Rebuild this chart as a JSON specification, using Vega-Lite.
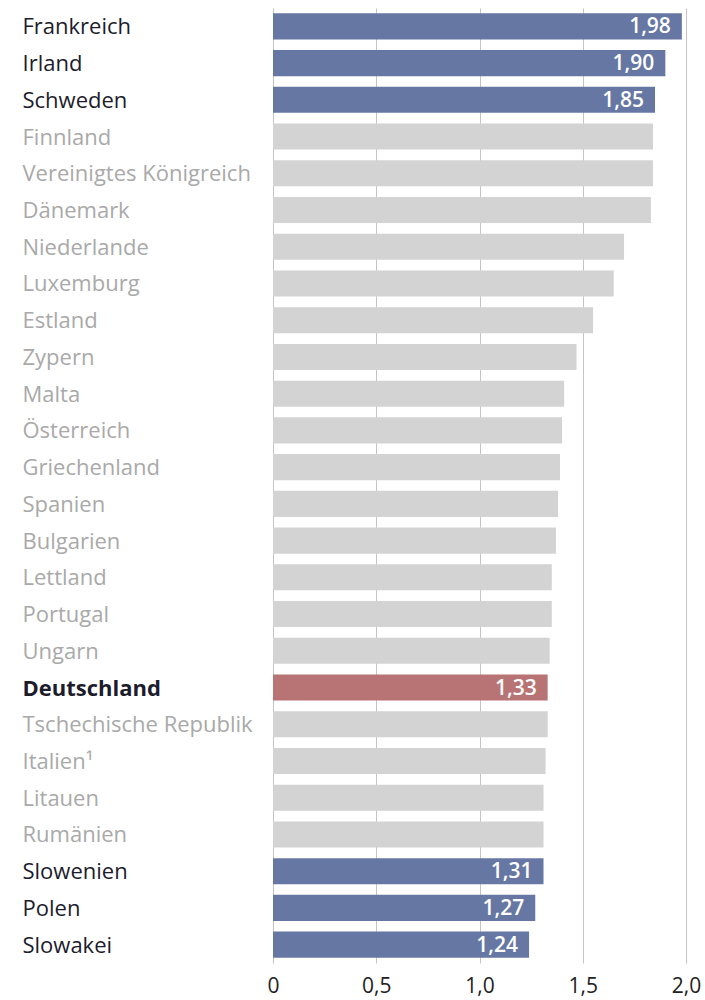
{
  "$schema": "https://vega.github.io/schema/vega-lite/v6.json",
  "width": 413,
  "height": 955,
  "autosize": {"type": "none"},
  "padding": {"left": 273, "top": 8, "right": 19, "bottom": 37},
  "background": "white",
  "config": {"view": {"stroke": null}, "font": "Open Sans"},
  "data": {
    "values": [
      {"land": "Frankreich", "wert": 1.98, "gruppe": "hoch", "label": "1,98"},
      {"land": "Irland", "wert": 1.90, "gruppe": "hoch", "label": "1,90"},
      {"land": "Schweden", "wert": 1.85, "gruppe": "hoch", "label": "1,85"},
      {"land": "Finnland", "wert": 1.84, "gruppe": "grau", "label": ""},
      {"land": "Vereinigtes Königreich", "wert": 1.84, "gruppe": "grau", "label": ""},
      {"land": "Dänemark", "wert": 1.83, "gruppe": "grau", "label": ""},
      {"land": "Niederlande", "wert": 1.70, "gruppe": "grau", "label": ""},
      {"land": "Luxemburg", "wert": 1.65, "gruppe": "grau", "label": ""},
      {"land": "Estland", "wert": 1.55, "gruppe": "grau", "label": ""},
      {"land": "Zypern", "wert": 1.47, "gruppe": "grau", "label": ""},
      {"land": "Malta", "wert": 1.41, "gruppe": "grau", "label": ""},
      {"land": "Österreich", "wert": 1.40, "gruppe": "grau", "label": ""},
      {"land": "Griechenland", "wert": 1.39, "gruppe": "grau", "label": ""},
      {"land": "Spanien", "wert": 1.38, "gruppe": "grau", "label": ""},
      {"land": "Bulgarien", "wert": 1.37, "gruppe": "grau", "label": ""},
      {"land": "Lettland", "wert": 1.35, "gruppe": "grau", "label": ""},
      {"land": "Portugal", "wert": 1.35, "gruppe": "grau", "label": ""},
      {"land": "Ungarn", "wert": 1.34, "gruppe": "grau", "label": ""},
      {"land": "Deutschland", "wert": 1.33, "gruppe": "de", "label": "1,33"},
      {"land": "Tschechische Republik", "wert": 1.33, "gruppe": "grau", "label": ""},
      {"land": "Italien¹", "wert": 1.32, "gruppe": "grau", "label": ""},
      {"land": "Litauen", "wert": 1.31, "gruppe": "grau", "label": ""},
      {"land": "Rumänien", "wert": 1.31, "gruppe": "grau", "label": ""},
      {"land": "Slowenien", "wert": 1.31, "gruppe": "niedrig", "label": "1,31"},
      {"land": "Polen", "wert": 1.27, "gruppe": "niedrig", "label": "1,27"},
      {"land": "Slowakei", "wert": 1.24, "gruppe": "niedrig", "label": "1,24"}
    ]
  },
  "encoding": {
    "y": {
      "field": "land",
      "type": "nominal",
      "sort": null,
      "scale": {"paddingInner": 0.29, "paddingOuter": 0.145},
      "axis": {
        "title": null,
        "domain": false,
        "ticks": false,
        "labelAlign": "left",
        "labelPadding": 251,
        "labelLimit": 300,
        "labelFont": "Open Sans",
        "labelFontSize": 22,
        "labelOffset": 1,
        "labelColor": {"expr": "indexof(['Frankreich','Irland','Schweden','Deutschland','Slowenien','Polen','Slowakei'], datum.label) >= 0 ? '#1c1c2c' : '#a9a9a9'"},
        "labelFontWeight": {"expr": "datum.label == 'Deutschland' ? 'bold' : 'normal'"}
      }
    },
    "x": {
      "field": "wert",
      "type": "quantitative",
      "scale": {"domain": [0, 2], "nice": false},
      "axis": {
        "title": null,
        "values": [0, 0.5, 1, 1.5, 2],
        "grid": true,
        "gridColor": "#c4c4c4",
        "gridWidth": 1,
        "domain": false,
        "ticks": false,
        "labelPadding": 12,
        "labelFont": "Open Sans",
        "labelFontSize": 21,
        "labelColor": "#222222",
        "labelFlush": false,
        "labelExpr": "datum.value == 0 ? '0' : replace(format(datum.value, '.1f'), '.', ',')"
      }
    }
  },
  "layer": [
    {
      "mark": {"type": "bar"},
      "encoding": {
        "color": {
          "field": "gruppe",
          "type": "nominal",
          "scale": {"domain": ["hoch", "grau", "de", "niedrig"], "range": ["#6677a3", "#d3d3d3", "#b87474", "#6677a3"]},
          "legend": null
        }
      }
    },
    {
      "mark": {"type": "text", "align": "right", "baseline": "middle", "dx": -11, "dy": 1, "color": "white", "font": "Open Sans", "fontSize": 21, "fontWeight": 600},
      "encoding": {"text": {"field": "label"}}
    }
  ]
}
